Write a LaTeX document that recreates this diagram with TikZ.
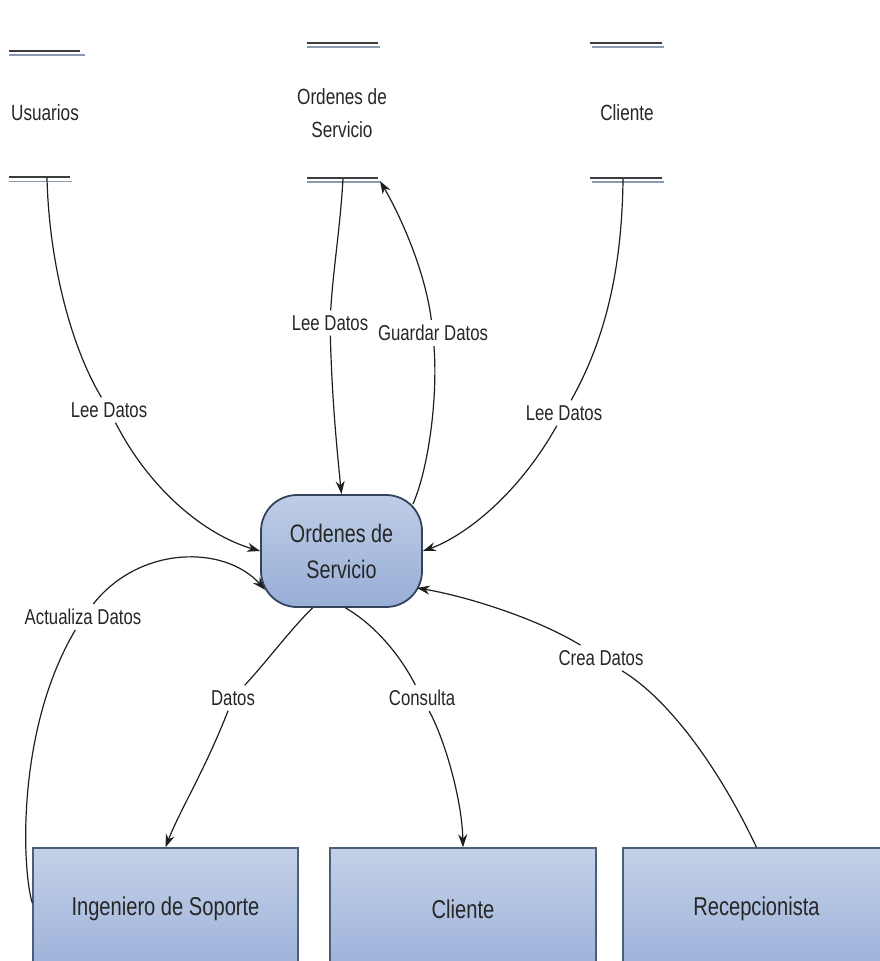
\documentclass[tikz,border=0pt]{standalone}
\usepackage{fontspec}
\setmainfont{Liberation Sans}
\newfontfamily\narrowsans[FakeStretch=0.78]{Liberation Sans}
\usetikzlibrary{arrows.meta}

\definecolor{ink}{HTML}{1E1E1E}
\definecolor{txt}{HTML}{262626}
\definecolor{storeA}{HTML}{3C3C3C}
\definecolor{storeB}{HTML}{8A9AB0}
\definecolor{boxTop}{HTML}{C4D1E7}
\definecolor{boxBot}{HTML}{9DB2DB}
\definecolor{boxLine}{HTML}{4E5D78}
\definecolor{procTop}{HTML}{BFCDE6}
\definecolor{procBot}{HTML}{97AED6}
\definecolor{procLine}{HTML}{34435C}

\tikzset{
  lbl/.style={font=\narrowsans\fontsize{21.5}{24}\selectfont, text=txt, inner xsep=3pt, inner ysep=5pt},
  storelbl/.style={font=\narrowsans\fontsize{22}{33}\selectfont, text=txt, align=center},
  storedark/.style={draw=storeA, line width=1.5pt},
  storelight/.style={draw=storeB, line width=1.2pt},
  entity/.style={draw=boxLine, line width=1.4pt, top color=boxTop, bottom color=boxBot,
    minimum height=122pt, font=\narrowsans\fontsize{25.8}{28}\selectfont, text=txt},
  process/.style={draw=procLine, line width=1.8pt, top color=procTop, bottom color=procBot,
    rounded corners=36pt, minimum width=161pt, minimum height=112pt, align=center,
    font=\narrowsans\fontsize{25.3}{36}\selectfont, text=txt},
  link/.style={draw=ink, line width=1.2pt},
  flow/.style={link, -{Stealth[length=13pt,width=9pt]}}
}

\begin{document}
\begin{tikzpicture}[x=1pt,y=-1pt]
\useasboundingbox (0,0) rectangle (880,961);
\clip (0,0) rectangle (880,961);

% data stores: double rules above and below the name
\draw[storedark] (9,51) -- (80,51);   \draw[storelight] (9,55) -- (85,55);
\draw[storedark] (9,177) -- (70,177); \draw[storelight] (9,181.5) -- (72,181.5);
\node[storelbl] (usuarios) at (45,113) {Usuarios};
\coordinate (usuB) at (47,178);

\draw[storedark] (307,43) -- (378,43);   \draw[storelight] (307,47) -- (380,47);
\draw[storedark] (307,178) -- (378,178); \draw[storelight] (307,182) -- (380,182);
\node[storelbl] (ordenes) at (342,113) {Ordenes de\\Servicio};
\coordinate (osB) at (343,179);
\coordinate (osR) at (380,181);

\draw[storedark] (590,43) -- (662,43);   \draw[storelight] (592,47) -- (664,47);
\draw[storedark] (590,178) -- (662,178); \draw[storelight] (592,182) -- (664,182);
\node[storelbl] (clienteds) at (627,113) {Cliente};
\coordinate (cliB) at (623,179);

% central process
\node[process] (proc) at (341.5,551) {Ordenes de\\Servicio};

% external entities
\node[entity, minimum width=265pt] (ing) at (165.5,909) {Ingeniero de Soporte};
\node[entity, minimum width=266pt] (cli) at (463,909) {Cliente};
\node[entity, minimum width=267pt] (rec) at (756.5,909) {Recepcionista};

% flow labels
\node[lbl] (l1) at (109,410) {Lee Datos};
\node[lbl] (l2) at (330,323) {Lee Datos};
\node[lbl] (l3) at (433,333) {Guardar Datos};
\node[lbl] (l4) at (564,413) {Lee Datos};
\node[lbl] (l5) at (83,617) {Actualiza Datos};
\node[lbl] (l6) at (233,698) {Datos};
\node[lbl] (l7) at (422,698) {Consulta};
\node[lbl] (l8) at (601,658) {Crea Datos};

% flows
\draw[link] (usuB) .. controls (49,260) and (70,345) .. (l1);
\draw[flow] (l1) .. controls (150,490) and (205,535) .. (proc.west);

\draw[link] (osB) .. controls (340,230) and (333,270) .. (l2);
\draw[flow] (l2) .. controls (332,400) and (337,450) .. (proc.north);

\draw[link] ([xshift=-10pt,yshift=-10pt]proc.north east) .. controls (428,470) and (438,400) .. (l3);
\draw[flow] (l3) .. controls (425,270) and (400,215) .. (osR);

\draw[link] (cliB) .. controls (622,270) and (605,340) .. (l4);
\draw[flow] (l4) .. controls (515,500) and (460,538) .. (proc.east);

\draw[link] ([yshift=6pt]ing.west) .. controls (22,870) and (16,730) .. (l5);
\draw[flow] (l5) .. controls (140,545) and (225,545) .. ([xshift=5pt,yshift=18pt]proc.south west);

\draw[link] ([xshift=-29pt]proc.south) .. controls (290,630) and (268,660) .. (l6);
\draw[flow] (l6) .. controls (205,770) and (180,810) .. (ing.north);

\draw[link] ([xshift=4pt]proc.south) .. controls (375,625) and (400,655) .. (l7);
\draw[flow] (l7) .. controls (445,740) and (462,800) .. (cli.north);

\draw[link] (rec.north) .. controls (720,770) and (670,700) .. (l8);
\draw[flow] (l8) .. controls (540,620) and (470,597) .. ([xshift=-6pt,yshift=20pt]proc.south east);
\end{tikzpicture}
\end{document}
